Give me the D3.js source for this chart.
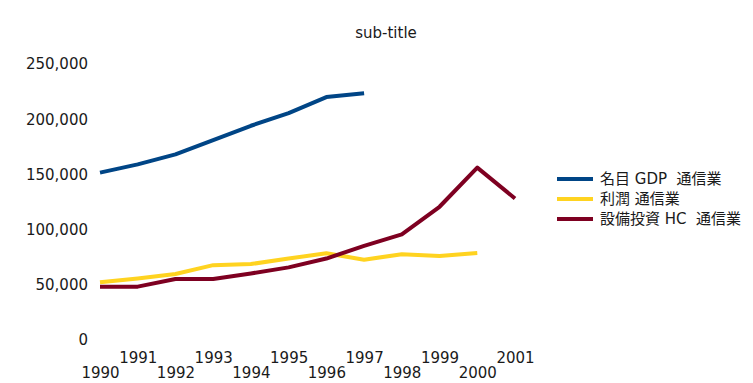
<!DOCTYPE html>
<html>
<head>
<meta charset="utf-8">
<script src="https://cdn.jsdelivr.net/npm/d3@7/dist/d3.min.js"></script>
<style>
  html, body { margin: 0; padding: 0; background: #fff; }
  svg { display: block; }
  text { font-family: "DejaVu Sans", "Noto Sans CJK JP", sans-serif; fill: #1a1a1a; }
</style>
</head>
<body>
<svg id="chart" width="753" height="383"></svg>
<script>
// Telecom industry series, 1990–2001
const years = [1990, 1991, 1992, 1993, 1994, 1995, 1996, 1997, 1998, 1999, 2000, 2001];
const gdp    = [151000, 158500, 167500, 180500, 193500, 205000, 219500, 223000, null, null, null, null];
const profit = [51500, 55000, 59000, 67000, 68000, 73000, 77800, 72000, 77000, 75300, 78000, null];
const capex  = [47500, 47500, 54500, 54500, 59500, 65000, 73000, 84500, 95000, 120000, 155500, 127500];
const seriesNames = ["名目 GDP  通信業", "利潤 通信業", "設備投資 HC  通信業"];
const seriesColors = ["#004586", "#ffd320", "#7e0021"];
const yTicks = [0, 50000, 100000, 150000, 200000, 250000];
const titleText = "sub-title";

const svg = d3.select("#chart");

const x = d3.scaleLinear().domain([1990, 2001]).range([100, 515]);
const y = d3.scaleLinear().domain([0, 250000]).range([339, 63.5]);

// Title
svg.append("text")
  .attr("x", 386).attr("y", 38)
  .attr("text-anchor", "middle")
  .style("font-size", "15px")
  .text(titleText);

// Y axis: labels only
const yAxis = svg.append("g")
  .attr("transform", "translate(88,0)")
  .call(d3.axisLeft(y).tickValues(yTicks).tickFormat(d3.format(",")).tickSize(0).tickPadding(0));
yAxis.select(".domain").remove();
yAxis.selectAll("text").style("font-size", "15px").attr("dy", "0.36em")
  .style("font-family", "'DejaVu Sans', sans-serif").attr("fill", "#1a1a1a");

// X axis: staggered year labels (odd years raised)
const oddYears = years.filter(d => d % 2 === 1);
const evenYears = years.filter(d => d % 2 === 0);
const xTop = svg.append("g").attr("transform", "translate(0,352)")
  .call(d3.axisBottom(x).tickValues(oddYears).tickFormat(d3.format("d")).tickSize(0).tickPadding(0));
const xBot = svg.append("g").attr("transform", "translate(0,367)")
  .call(d3.axisBottom(x).tickValues(evenYears).tickFormat(d3.format("d")).tickSize(0).tickPadding(0));
[xTop, xBot].forEach(g => {
  g.select(".domain").remove();
  g.selectAll("text").style("font-size", "15px").attr("dy", "0.71em")
    .style("font-family", "'DejaVu Sans', sans-serif").attr("fill", "#1a1a1a");
});

// Lines
const line = d3.line()
  .defined(d => d.v != null)
  .x(d => x(d.year))
  .y(d => y(d.v));

const allSeries = [gdp, profit, capex];
allSeries.forEach((vals, i) => {
  svg.append("path")
    .datum(years.map((yr, j) => ({ year: yr, v: vals[j] })))
    .attr("fill", "none")
    .attr("stroke", seriesColors[i])
    .attr("stroke-width", 4)
    .attr("stroke-linejoin", "round")
    .attr("d", line);
});

// Legend
const legend = svg.append("g").attr("transform", "translate(557,179)");
seriesNames.forEach((name, i) => {
  const row = legend.append("g").attr("transform", `translate(0,${i * 20})`);
  row.append("line")
    .attr("x1", 0).attr("x2", 36).attr("y1", 0).attr("y2", 0)
    .attr("stroke", seriesColors[i]).attr("stroke-width", 4);
  row.append("text")
    .attr("x", 43).attr("y", 0).attr("dy", "0.36em")
    .style("font-size", "15px")
    .style("white-space", "pre")
    .text(name);
});
</script>
</body>
</html>
